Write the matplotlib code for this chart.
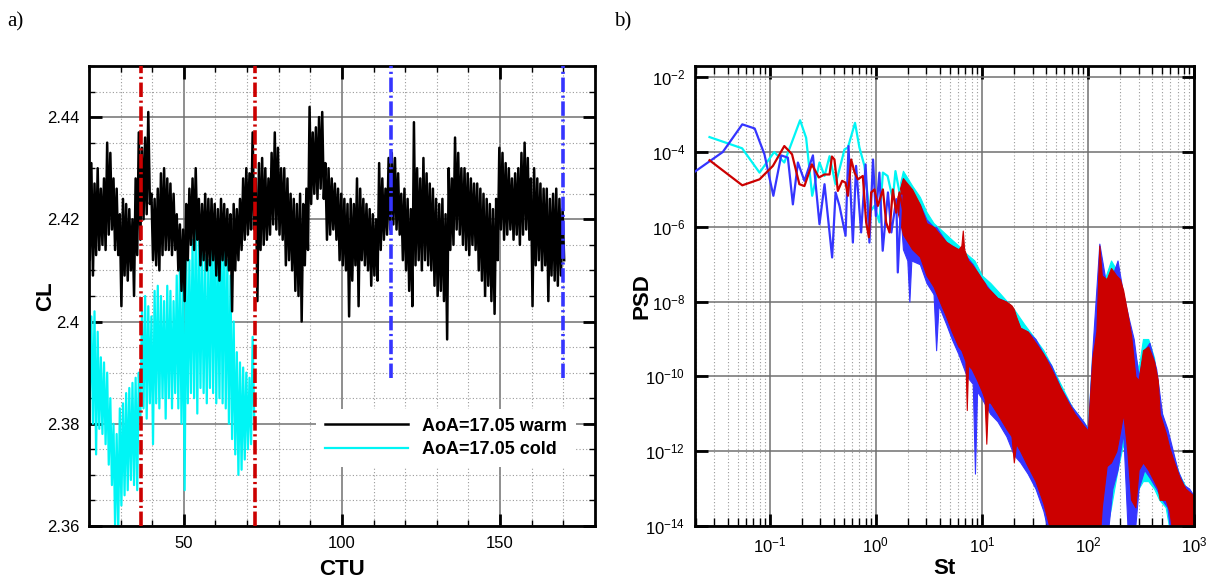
import numpy as np
import matplotlib
matplotlib.use("Agg")
from matplotlib import pyplot as plt
from matplotlib import ticker

plt.rcParams['font.family'] = ['Liberation Sans', 'DejaVu Sans']
plt.rcParams['mathtext.fontset'] = 'custom'
plt.rcParams['mathtext.rm'] = 'Liberation Sans'
plt.rcParams['mathtext.it'] = 'Liberation Sans:italic'
plt.rcParams['mathtext.bf'] = 'Liberation Sans:bold'

# a) CL history, upper / lower value read in each 1 CTU bin
ctu_warm = np.arange(20, 171)
cl_warm_hi = [
    2.429, 2.431, 2.427, 2.430, 2.426, 2.428, 2.435, 2.433, 2.428, 2.426,
    2.421, 2.424, 2.423, 2.422, 2.420, 2.428, 2.437, 2.434, 2.436, 2.441,
    2.425, 2.424, 2.426, 2.429, 2.430, 2.428, 2.427, 2.425, 2.421, 2.419,
    2.418, 2.423, 2.426, 2.428, 2.430, 2.424, 2.423, 2.425, 2.424, 2.424,
    2.423, 2.422, 2.424, 2.423, 2.422, 2.421, 2.423, 2.422, 2.424, 2.428,
    2.430, 2.429, 2.437, 2.428, 2.431, 2.432, 2.430, 2.428, 2.433, 2.437,
    2.434, 2.430, 2.430, 2.428, 2.425, 2.424, 2.423, 2.425, 2.423, 2.426,
    2.442, 2.437, 2.438, 2.440, 2.441, 2.431, 2.430, 2.428, 2.427, 2.426,
    2.425, 2.424, 2.423, 2.424, 2.423, 2.428, 2.426, 2.424, 2.423, 2.422,
    2.421, 2.420, 2.431, 2.428, 2.426, 2.432, 2.433, 2.432, 2.429, 2.425,
    2.426, 2.424, 2.422, 2.439, 2.430, 2.428, 2.432, 2.429, 2.427, 2.426,
    2.424, 2.423, 2.424, 2.421, 2.430, 2.428, 2.436, 2.433, 2.430, 2.430,
    2.429, 2.428, 2.427, 2.427, 2.426, 2.425, 2.424, 2.423, 2.422, 2.424,
    2.434, 2.433, 2.431, 2.430, 2.428, 2.429, 2.430, 2.433, 2.435, 2.432,
    2.428, 2.430, 2.428, 2.427, 2.426, 2.426, 2.424, 2.425, 2.426, 2.424,
    2.422]
cl_warm_lo = [
    2.412, 2.409, 2.413, 2.414, 2.415, 2.414, 2.417, 2.418, 2.414, 2.413,
    2.403, 2.409, 2.408, 2.410, 2.405, 2.413, 2.416, 2.420, 2.421, 2.423,
    2.412, 2.411, 2.410, 2.413, 2.414, 2.414, 2.413, 2.414, 2.410, 2.406,
    2.404, 2.412, 2.415, 2.414, 2.416, 2.411, 2.412, 2.410, 2.411, 2.412,
    2.409, 2.408, 2.412, 2.411, 2.410, 2.402, 2.410, 2.412, 2.414, 2.416,
    2.417, 2.418, 2.418, 2.404, 2.414, 2.415, 2.416, 2.417, 2.419, 2.418,
    2.417, 2.416, 2.411, 2.412, 2.410, 2.406, 2.405, 2.400, 2.411, 2.414,
    2.423, 2.425, 2.424, 2.426, 2.424, 2.416, 2.417, 2.418, 2.416, 2.412,
    2.411, 2.410, 2.401, 2.408, 2.411, 2.403, 2.412, 2.411, 2.410, 2.407,
    2.409, 2.408, 2.414, 2.416, 2.417, 2.418, 2.419, 2.418, 2.417, 2.412,
    2.410, 2.406, 2.403, 2.411, 2.412, 2.410, 2.412, 2.411, 2.410, 2.407,
    2.405, 2.406, 2.404, 2.3965, 2.414, 2.415, 2.418, 2.417, 2.415, 2.414,
    2.413, 2.415, 2.414, 2.410, 2.408, 2.405, 2.407, 2.404, 2.4015, 2.412,
    2.418, 2.416, 2.417, 2.418, 2.416, 2.417, 2.415, 2.417, 2.418, 2.416,
    2.403, 2.411, 2.412, 2.410, 2.411, 2.404, 2.409, 2.408, 2.407, 2.409,
    2.412]

ctu_cold = np.arange(20, 73)
cl_cold_hi = [
    2.402, 2.401, 2.402, 2.398, 2.393, 2.392, 2.390, 2.385, 2.380, 2.378,
    2.383, 2.384, 2.386, 2.387, 2.388, 2.389, 2.390, 2.402, 2.405, 2.403,
    2.401, 2.406, 2.407, 2.405, 2.404, 2.407, 2.406, 2.404, 2.409, 2.411,
    2.408, 2.413, 2.412, 2.416, 2.419, 2.417, 2.414, 2.413, 2.412, 2.418,
    2.419, 2.414, 2.418, 2.420, 2.412, 2.409, 2.400, 2.394, 2.392, 2.391,
    2.390, 2.389, 2.397]
cl_cold_lo = [
    2.385, 2.380, 2.374, 2.379, 2.378, 2.376, 2.372, 2.368, 2.360, 2.359,
    2.364, 2.366, 2.367, 2.369, 2.368, 2.367, 2.381, 2.383, 2.381, 2.384,
    2.376, 2.384, 2.383, 2.385, 2.381, 2.385, 2.383, 2.386, 2.383, 2.380,
    2.367, 2.384, 2.386, 2.385, 2.382, 2.387, 2.386, 2.384, 2.387, 2.386,
    2.384, 2.385, 2.384, 2.383, 2.380, 2.377, 2.374, 2.370, 2.371, 2.373,
    2.375, 2.376, 2.381]

red_windows = [36.4, 72.4]
blue_windows = [115.6, 170.0]
blue_window_bottom = 2.389

# b) PSD, low frequency part read point by point (log10 of PSD)
st_blue_lf = [0.018, 0.036, 0.055, 0.072, 0.089, 0.108, 0.128, 0.148, 0.165, 0.184,
              0.212, 0.255, 0.294, 0.328, 0.387, 0.417, 0.454, 0.518, 0.552, 0.607,
              0.651, 0.726, 0.80, 0.87, 0.94, 1.0, 1.08, 1.16, 1.30, 1.40, 1.56, 1.61, 1.74]
psd_blue_lf = [-4.6, -4.0, -3.26, -3.37, -4.06, -5.17, -4.09, -4.15, -5.40, -4.28,
               -4.77, -4.09, -5.93, -4.86, -6.82, -5.08, -5.44, -6.24, -3.84, -6.42,
               -4.37, -6.15, -4.33, -6.42, -4.2, -5.71, -4.55, -6.64, -5.08, -6.15, -5.26, -7.22, -5.17]

st_cyan_lf = [0.027, 0.0548, 0.08, 0.11, 0.137, 0.193, 0.22, 0.251, 0.294, 0.328,
              0.366, 0.416, 0.454, 0.506, 0.545, 0.636, 0.70, 0.78, 0.87, 0.97,
              1.08, 1.165, 1.29, 1.445, 1.53, 1.67]
psd_cyan_lf = [-3.6, -3.9, -4.55, -4.0, -4.28, -3.15, -3.62, -5.17, -4.28, -4.64,
               -4.11, -4.86, -4.46, -3.93, -3.88, -3.22, -3.88, -4.37, -5.62, -5.44,
               -5.88, -4.55, -4.64, -5.26, -4.51, -5.08]

st_red_lf = [0.027, 0.055, 0.08, 0.107, 0.137, 0.162, 0.19, 0.212, 0.249, 0.29,
             0.328, 0.366, 0.385, 0.407, 0.438, 0.481, 0.518, 0.545, 0.585, 0.63,
             0.676, 0.753, 0.81, 0.86, 0.904, 0.97, 1.045, 1.165, 1.25, 1.345,
             1.445, 1.556, 1.67, 1.8]
psd_red_lf = [-4.22, -4.89, -4.73, -4.37, -3.84, -4.06, -4.86, -4.91, -4.33, -4.68,
              -4.60, -4.60, -4.12, -4.20, -5.04, -4.77, -4.82, -5.17, -4.20, -4.55,
              -4.73, -4.64, -5.88, -6.28, -5.08, -5.0, -5.44, -5.0, -5.88, -6.15,
              -5.0, -5.62, -5.08, -5.53]

# b) PSD, dense part: upper / lower edge of the band (log10 of PSD)
st_blue_band = [1.7, 1.8, 1.98, 2.07, 2.16, 2.6, 3.0, 3.5, 3.7, 3.9, 4.6, 5.2,
                6.0, 7.2, 8.2, 8.6, 9.0, 10, 12, 14, 17, 20, 23, 27, 32, 38, 45, 55, 70,
                90, 100, 110, 128, 150, 170, 190, 215, 240, 270, 300, 340, 380, 440, 500,
                560, 620, 700, 800, 900, 1000]
blue_hi = [-5.0, -4.7, -4.9, -5.0, -5.1, -5.4, -5.8, -6.0, -6.0, -6.1, -6.4,
           -6.5, -6.6, -6.8, -7.0, -7.1, -7.2, -7.4, -7.7, -7.9, -8.0, -8.3, -8.7, -8.8,
           -9.0, -9.4, -9.7, -10.3, -10.8, -11.2, -11.4, -9.3, -6.45, -7.6, -7.3, -6.9,
           -7.8, -8.4, -9.0, -10.0, -9.3, -9.1, -9.8, -11.0, -11.4, -11.9, -12.5, -12.9,
           -13.0, -13.2]
blue_lo = [-5.6, -6.6, -6.9, -8.0, -6.9, -7.0, -7.5, -7.8, -9.3, -8.1, -8.6,
           -9.0, -9.4, -10.0, -10.2, -12.6, -10.4, -10.6, -11.0, -11.2, -11.6, -12.1,
           -12.3, -12.6, -13.0, -13.6, -14.5, -14.5, -14.5, -14.5, -14.5, -14.5, -14.5,
           -14.5, -13.0, -12.5, -11.5, -14.5, -14.5, -13.0, -12.5, -12.7, -13.0, -13.3,
           -13.5, -14.5, -14.5, -14.5, -14.5, -14.5]

st_cyan_band = [1.7, 1.8, 2.2, 2.6, 3.0, 3.5, 4.2, 5.0, 6.0, 7.0, 8.5, 10, 12, 15, 20,
                25, 30, 38, 45, 55, 70, 90, 100, 110, 125, 140, 165, 190, 215, 240, 270,
                300, 330, 370, 420, 470, 540, 620, 720, 850, 1000]
cyan_hi = [-4.8, -4.5, -4.9, -5.2, -5.6, -5.9, -6.1, -6.3, -6.5, -6.7, -6.9, -7.3,
           -7.5, -7.8, -8.2, -8.6, -8.9, -9.3, -9.7, -10.2, -10.8, -11.2, -11.4, -9.4,
           -8.5, -7.5, -6.9, -7.2, -7.9, -8.5, -9.3, -9.8, -9.0, -9.0, -9.5, -10.7, -11.4,
           -12.0, -12.6, -13.0, -13.2]
cyan_lo = [-5.3, -5.8, -6.5, -6.8, -7.2, -7.8, -8.1, -8.8, -9.3, -9.8, -10.2, -10.5,
           -11.0, -11.0, -11.8, -12.4, -12.8, -13.4, -13.7, -14.5, -14.5, -14.5, -14.5,
           -14.5, -14.5, -14.5, -13.5, -12.5, -11.8, -12.5, -13.5, -13.0, -12.8, -12.8,
           -13.0, -13.3, -13.5, -14.5, -14.5, -14.5, -14.5]

st_red_band = [1.6, 1.8, 2.2, 2.6, 3.0, 3.5, 4.0, 4.6, 5.2, 6.0, 6.4, 6.6, 6.8,
               7.0, 7.2, 7.4, 8, 9, 10, 10.6, 11, 11.4, 12, 14, 17, 19, 20, 21, 23, 27, 32,
               38, 45, 55, 65, 75, 90, 100, 110, 120, 128, 135, 150, 165, 185, 200, 215,
               235, 255, 280, 300, 330, 370, 420, 455, 475, 540, 585, 650, 730, 830, 1000]
red_hi = [-5.2, -4.7, -5.0, -5.4, -5.9, -6.0, -6.2, -6.4, -6.5, -6.6, -6.5,
          -6.1, -6.6, -6.7, -6.8, -6.9, -7.0, -7.2, -7.4, -7.5, -7.6, -7.65, -7.7, -7.9,
          -8.0, -8.1, -8.2, -8.4, -8.7, -8.8, -9.1, -9.4, -9.8, -10.3, -10.7, -11.0,
          -11.3, -11.45, -9.5, -8.8, -6.5, -7.3, -7.4, -7.1, -7.3, -7.4, -7.7, -8.3, -8.9,
          -10.0, -10.1, -9.3, -9.2, -9.6, -10.1, -11.0, -11.5, -11.9, -12.3, -12.7, -13.0,
          -13.2]
red_lo = [-5.6, -6.2, -6.6, -6.8, -7.3, -7.6, -8.0, -8.4, -8.8, -9.2, -9.3,
          -9.4, -9.5, -9.6, -10.9, -9.7, -9.8, -10.1, -10.4, -10.6, -11.8, -10.7, -10.7,
          -11.0, -11.4, -11.6, -12.3, -11.8, -12.0, -12.4, -12.8, -13.4, -14.2, -14.5,
          -14.5, -14.5, -14.5, -14.5, -14.5, -14.5, -14.5, -13.5, -12.4, -12.3, -12.0,
          -11.5, -11.0, -12.0, -13.3, -13.5, -12.5, -12.3, -12.5, -12.8, -13.0, -13.3,
          -13.3, -13.6, -14.5, -14.5, -14.5, -14.5]

c_blue = '#3535ff'
c_cyan = '#00f5f5'
c_red = '#cc0000'


def zigzag(t, hi, lo):
    x = np.column_stack([t - 0.25, t + 0.25]).ravel()
    y = np.column_stack([hi, lo]).ravel()
    return x, y


def style_axes(ax):
    for s in ax.spines.values():
        s.set_linewidth(2)
    ax.tick_params(which='both', direction='in', top=True, right=True, labelsize=12)
    ax.tick_params(which='major', length=9, width=2, pad=7)
    ax.tick_params(which='minor', length=4, width=1)
    ax.grid(which='major', color='#707070', lw=1.1, ls='-')
    ax.grid(which='minor', color='#9a9a9a', lw=0.8, ls=(0, (1, 2)))
    ax.set_axisbelow(True)


fig = plt.figure(figsize=(12.24, 5.85), dpi=100)
ax1 = fig.add_axes([0.0727, 0.1009, 0.4134, 0.7863])
ax2 = fig.add_axes([0.5678, 0.1009, 0.4077, 0.7863])

# ---- a)
x, y = zigzag(ctu_warm, cl_warm_hi, cl_warm_lo)
ax1.plot(x, y, color='black', lw=1.8, label='AoA=17.05 warm', zorder=3)
x, y = zigzag(ctu_cold, cl_cold_hi, cl_cold_lo)
ax1.plot(x, y, color=c_cyan, lw=1.6, label='AoA=17.05 cold', zorder=2)

dash = (0, (4, 1, 0.6, 1))
for xv in red_windows:
    ax1.axvline(xv, color=c_red, lw=2.6, ls=dash, zorder=4)
for xv in blue_windows:
    ax1.vlines(xv, blue_window_bottom, 2.45, color=c_blue, lw=2.6, ls=dash, zorder=4)

ax1.set_xlim(20, 180)
ax1.set_ylim(2.36, 2.45)
ax1.xaxis.set_major_locator(ticker.MultipleLocator(50))
ax1.xaxis.set_minor_locator(ticker.MultipleLocator(10))
ax1.yaxis.set_major_locator(ticker.MultipleLocator(0.02))
ax1.yaxis.set_minor_locator(ticker.MultipleLocator(0.005))
ax1.yaxis.set_major_formatter(ticker.FuncFormatter(lambda v, p: f'{v:.2f}'.rstrip('0')))
style_axes(ax1)
ax1.set_xlabel('CTU', fontsize=16, fontweight='bold', labelpad=6)
ax1.set_ylabel('CL', fontsize=16, fontweight='bold', labelpad=-7)

leg = ax1.legend(loc='upper left', bbox_to_anchor=(0.43, 0.275), frameon=True,
                 fancybox=False, framealpha=1, edgecolor='none', facecolor='white',
                 handlelength=4.6, handletextpad=0.8, labelspacing=0.35,
                 prop={'size': 13, 'weight': 'bold'}, borderpad=0.5)
leg.set_zorder(5)

# ---- b)
ax2.fill_between(st_cyan_band, 10.0 ** np.array(cyan_hi), 10.0 ** np.array(cyan_lo),
                 facecolor=c_cyan, edgecolor=c_cyan, lw=0.8, zorder=2)
ax2.fill_between(st_blue_band, 10.0 ** np.array(blue_hi), 10.0 ** np.array(blue_lo),
                 facecolor=c_blue, edgecolor=c_blue, lw=0.8, zorder=2)
ax2.fill_between(st_red_band, 10.0 ** np.array(red_hi), 10.0 ** np.array(red_lo),
                 facecolor=c_red, edgecolor=c_red, lw=0.8, zorder=2)
ax2.plot(st_cyan_lf, 10.0 ** np.array(psd_cyan_lf), color=c_cyan, lw=1.6, zorder=3)
ax2.plot(st_blue_lf, 10.0 ** np.array(psd_blue_lf), color=c_blue, lw=1.6, zorder=3)
ax2.plot(st_red_lf, 10.0 ** np.array(psd_red_lf), color=c_red, lw=1.6, zorder=3)

ax2.set_xscale('log')
ax2.set_yscale('log')
ax2.set_xlim(0.0197, 1000)
ax2.set_ylim(1e-14, 2e-2)
ax2.xaxis.set_major_locator(ticker.LogLocator(base=10, numticks=20))
ax2.xaxis.set_minor_locator(ticker.LogLocator(base=10, subs=np.arange(2, 10), numticks=20))
ax2.yaxis.set_major_locator(ticker.FixedLocator(10.0 ** np.arange(-14, -1, 2)))
ax2.yaxis.set_minor_locator(ticker.NullLocator())
ax2.xaxis.set_major_formatter(ticker.LogFormatterSciNotation())
ax2.yaxis.set_major_formatter(ticker.LogFormatterSciNotation())
style_axes(ax2)
ax2.tick_params(axis='x', which='minor', length=6)
ax2.set_xlabel('St', fontsize=16, fontweight='bold', labelpad=2)
ax2.set_ylabel('PSD', fontsize=16, fontweight='bold', labelpad=-5)

fig.text(0.006, 0.955, 'a)', fontsize=15, family=['Liberation Serif', 'DejaVu Serif'])
fig.text(0.502, 0.955, 'b)', fontsize=15, family=['Liberation Serif', 'DejaVu Serif'])

fig.savefig('out.png', dpi=100)
